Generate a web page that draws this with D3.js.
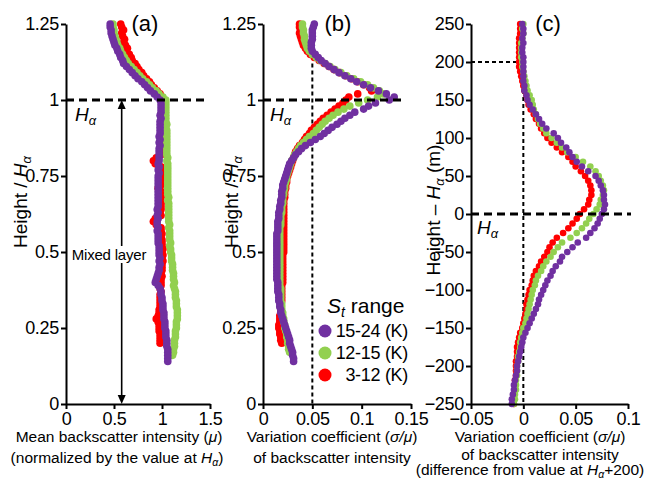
<!DOCTYPE html>
<html>
<head>
<meta charset="utf-8">
<script src="https://cdn.jsdelivr.net/npm/d3@7"></script>
<style>
  body { margin: 0; background: #fff; }
  text { font-family: "Liberation Sans", Arial, sans-serif; fill: #000; }
</style>
</head>
<body>
<svg id="chart" width="651" height="479"></svg>
<script>
// ---- Normalised heights (Height / H_alpha) shared by panels (a) and (b) ----
const heightGrid = [
  1.25,1.24,1.23,1.22,1.21,1.20,1.19,1.18,1.17,1.16,
  1.15,1.14,1.13,1.12,1.11,1.10,1.09,1.08,1.07,1.06,
  1.05,1.04,1.03,1.02,1.01,1.00,0.99,0.98,0.97,0.96,
  0.95,0.94,0.93,0.92,0.91,0.90,0.89,0.88,0.87,0.86,
  0.85,0.84,0.83,0.82,0.81,0.80,0.79,0.78,0.77,0.76,
  0.75,0.74,0.73,0.72,0.71,0.70,0.69,0.68,0.67,0.66,
  0.65,0.64,0.63,0.62,0.61,0.60,0.59,0.58,0.57,0.56,
  0.55,0.54,0.53,0.52,0.51,0.50,0.49,0.48,0.47,0.46,
  0.45,0.44,0.43,0.42,0.41,0.40,0.39,0.38,0.37,0.36,
  0.35,0.34,0.33,0.32,0.31,0.30,0.29,0.28,0.27,0.26,
  0.25,0.24,0.23,0.22,0.21,0.20,0.19,0.18,0.17,0.16,
  0.15,0.14
];

// (a) mean backscatter intensity, normalised by the value at H_alpha
const meanHigh = [ // St 15-24 K
  .46,.46,.47,.47,.48,.49,.50,.51,.53,.54,
  .56,.57,.59,.60,.63,.66,.69,.72,.75,.79,
  .82,.85,.88,.92,.95,.98,.99,.99,.99,.99,
  .98,.99,.98,.98,.98,.98,.98,.97,.98,.97,
  .98,.97,.97,.97,.97,.97,.96,.97,.96,.97,
  .96,.96,.96,.96,.96,.96,.96,.96,.96,.96,
  .96,.95,.96,.95,.96,.95,.95,.96,.95,.96,
  .96,.96,.96,.97,.97,.97,.97,.98,.97,.98,
  .97,.97,.96,.95,.94,.93,.96,.98,.99,.99,
  1.00,1.00,1.01,1.01,1.01,1.02,1.02,1.02,1.03,1.03,
  1.03,1.04,1.04,1.04,1.05,1.05,1.05,1.06,1.06,1.06,
  1.06,1.06
];
const meanMid = [ // St 12-15 K
  .49,.49,.50,.50,.51,.52,.53,.54,.56,.57,
  .59,.61,.63,.65,.68,.71,.74,.77,.80,.84,
  .87,.90,.94,.97,1.01,1.04,1.04,1.04,1.04,1.04,
  1.04,1.04,1.04,1.05,1.04,1.05,1.05,1.05,1.05,1.05,
  1.05,1.05,1.05,1.05,1.06,1.05,1.06,1.06,1.06,1.06,
  1.06,1.06,1.06,1.06,1.06,1.06,1.06,1.07,1.06,1.07,
  1.07,1.07,1.07,1.07,1.07,1.07,1.08,1.07,1.08,1.08,
  1.08,1.08,1.09,1.08,1.09,1.09,1.10,1.10,1.10,1.11,
  1.11,1.11,1.12,1.12,1.12,1.13,1.12,1.13,1.14,1.14,
  1.14,1.15,1.15,1.15,1.16,1.16,1.16,1.16,1.15,1.15,
  1.15,1.14,1.14,1.14,1.13,1.13,1.13,1.12,1.12,1.11,
  null,null
];
const meanLow = [ // St 3-12 K
  .57,.58,.60,.58,.59,.61,.60,.62,.64,.63,
  .66,.68,.69,.72,.74,.76,.79,.81,.84,.87,
  .89,.92,.95,.98,1.00,1.02,1.01,1.00,1.01,1.00,
  .99,1.00,.99,1.00,.99,.99,1.00,.99,.99,1.00,
  .99,.99,.98,.99,.94,.91,.93,.99,.99,1.00,
  .99,.99,.98,.99,.96,.99,.99,.99,.98,.99,
  .99,.99,.98,.99,.93,.91,.94,.99,.99,1.00,
  .99,1.00,1.00,1.00,1.01,1.00,1.01,1.00,1.01,1.00,
  1.00,1.00,.99,1.00,.99,.99,.99,.98,.99,.98,
  .98,.98,.98,.98,.97,.97,.96,.94,.96,.97,
  .97,.97,.98,.98,.98,.98,null,null,null,null,
  null,null
];

// (b) variation coefficient sigma/mu
const cvHigh = [
  .052,.051,.050,.050,.050,.050,.049,.049,.049,.050,
  .053,.056,.059,.063,.067,.072,.077,.083,.089,.095,
  .102,.109,.117,.125,.133,.128,.114,.107,.102,.093,
  .088,.083,.079,.075,.070,.066,.062,.058,.053,.048,
  .043,.039,.036,.033,.031,.029,.027,.026,.025,.024,
  .023,.022,.021,.020,.020,.019,.019,.019,.018,.018,
  .017,.017,.016,.016,.016,.015,.015,.015,.015,.014,
  .014,.014,.014,.014,.014,.014,.014,.014,.014,.014,
  .014,.014,.014,.014,.014,.015,.015,.015,.015,.016,
  .016,.016,.017,.017,.018,.018,.019,.020,.021,.022,
  .023,.024,.025,.026,.027,.027,.028,.029,.030,.030,
  .031,.031
];
const cvMid = [
  .040,.040,.041,.041,.042,.042,.043,.044,.045,.047,
  .050,.054,.058,.063,.068,.073,.079,.085,.092,.099,
  .106,.112,.118,.122,.116,.106,.097,.088,.082,.076,
  .071,.067,.063,.060,.057,.054,.051,.047,.044,.041,
  .038,.036,.034,.032,.031,.029,.028,.027,.026,.025,
  .024,.024,.023,.022,.022,.021,.021,.020,.020,.020,
  .019,.019,.019,.018,.018,.018,.018,.017,.017,.017,
  .017,.017,.017,.017,.017,.017,.017,.017,.017,.017,
  .017,.017,.017,.017,.017,.017,.017,.018,.018,.018,
  .018,.018,.019,.019,.019,.020,.020,.021,.021,.022,
  .022,.023,.024,.024,.025,.025,.026,.026,.027,null,
  null,null
];
const cvLow = [
  .037,.037,.038,.037,.038,.039,.040,.041,.043,.045,
  .048,.052,.057,.062,.067,.072,.078,.084,.090,.096,
  .102,.108,.110,.096,.087,.084,.081,.077,.073,.069,
  .065,.061,.058,.055,.052,.049,.047,.044,.042,.040,
  .037,.035,.033,.032,.031,.030,.029,.028,.027,.026,
  .025,.024,.024,.023,.023,.022,.022,.022,.021,.021,
  .021,.021,.021,.021,.021,.021,.021,.021,.021,.021,
  .021,.021,.021,.021,.021,.021,.020,.020,.020,.020,
  .020,.020,.020,.020,.020,.020,.019,.019,.019,.019,
  .019,.019,.018,.018,.018,.018,.017,.017,.017,.016,
  .016,.017,.017,.018,.018,.019,null,null,null,null,
  null,null
];

// ---- Heights relative to H_alpha in metres, panel (c) ----
const offsetGrid = [
  250,243.75,237.5,231.25,225,218.75,212.5,206.25,200,193.75,
  187.5,181.25,175,168.75,162.5,156.25,150,143.75,137.5,131.25,
  125,118.75,112.5,106.25,100,93.75,87.5,81.25,75,68.75,
  62.5,56.25,50,43.75,37.5,31.25,25,18.75,12.5,6.25,
  0,-6.25,-12.5,-18.75,-25,-31.25,-37.5,-43.75,-50,-56.25,
  -62.5,-68.75,-75,-81.25,-87.5,-93.75,-100,-106.25,-112.5,-118.75,
  -125,-131.25,-137.5,-143.75,-150,-156.25,-162.5,-168.75,-175,-181.25,
  -187.5,-193.75,-200,-206.25,-212.5,-218.75,-225,-231.25,-237.5,-243.75,
  -250
];
// (c) variation coefficient minus its value at H_alpha + 200 m
const diffHigh = [
  -.001,.000,.000,-.001,.000,-.001,-.001,.000,.000,.000,
  .000,.000,.000,.001,.001,.003,.004,.006,.009,.012,
  .015,.018,.022,.029,.033,.036,.041,.044,.047,.051,
  .056,.062,.069,.072,.074,.076,.077,.077,.078,.077,
  .075,.073,.071,.068,.064,.060,.052,.047,.042,.037,
  .035,.031,.028,.026,.023,.021,.019,.017,.015,.014,
  .012,.010,.008,.006,.004,.002,.000,-.001,-.002,-.003,
  -.004,-.005,-.006,-.006,-.007,-.008,-.009,-.009,-.010,-.011,
  -.011
];
const diffMid = [
  .000,-.001,.000,-.001,-.002,-.002,-.002,-.002,-.001,-.001,
  .000,.001,.002,.003,.004,.006,.008,.009,.010,.012,
  .014,.016,.019,.022,.027,.032,.037,.042,.050,.057,
  .064,.069,.072,.074,.076,.077,.076,.074,.073,.070,
  .067,.063,.060,.056,.051,.045,.037,.033,.029,.026,
  .022,.019,.017,.014,.012,.011,.009,.008,.007,.006,
  .005,.004,.003,.002,.000,-.001,-.002,-.003,-.003,-.004,
  -.005,-.005,-.006,-.006,-.006,-.007,-.007,-.007,-.008,-.008,
  -.009
];
const diffLow = [
  -.003,-.003,-.003,-.004,-.004,-.004,-.004,-.004,-.004,-.004,
  -.003,-.002,-.001,.000,.001,.003,.004,.005,.007,.010,
  .012,.015,.017,.020,.023,.027,.032,.037,.043,.047,
  .050,.055,.059,.062,.064,.065,.065,.063,.062,.058,
  .054,.051,.047,.043,.038,.032,.028,.025,.023,.020,
  .017,.015,.012,.010,.009,.008,.006,.005,.004,.003,
  .003,.002,.001,.000,-.001,-.003,-.004,-.005,-.006,-.006,
  -.006,-.007,-.007,-.007,-.007,-.008,-.008,-.008,-.009,-.009,
  -.009
];

// ---- Axis ticks and labels ----
const heightTicks = [0, 0.25, 0.5, 0.75, 1, 1.25];
const heightTickLabels = ["0", "0.25", "0.5", "0.75", "1", "1.25"];
const meanTicks = [0, 0.5, 1, 1.5];
const meanTickLabels = ["0", "0.5", "1", "1.5"];
const cvTicks = [0, 0.05, 0.1, 0.15];
const cvTickLabels = ["0", "0.05", "0.1", "0.15"];
const diffTicks = [-0.05, 0, 0.05, 0.1];
const diffTickLabels = ["\u22120.05", "0", "0.05", "0.1"];
const offsetTicks = [-250, -200, -150, -100, -50, 0, 50, 100, 150, 200, 250];
const offsetTickLabels = ["\u2212250", "\u2212200", "\u2212150", "\u2212100", "\u221250", "0", "50", "100", "150", "200", "250"];

const seriesLabels = ["15-24 (K)", "12-15 (K)", "3-12 (K)"];
const colours = { high: "#7030a0", mid: "#92d050", low: "#ff0000" };

const svg = d3.select("#chart");
const yTop = 24, yBottom = 404;

function addHalpha(textSel, size, drop) {
  textSel.append("tspan").attr("font-style", "italic").text("H");
  textSel.append("tspan").attr("font-style", "italic")
    .attr("font-size", size * 0.68).attr("dy", drop).text("\u03b1");
}

function drawAxes(g, x, y, xt, xl, yt, yl) {
  const ax = g.append("g").attr("transform", `translate(0,${yBottom})`)
    .call(d3.axisBottom(x).tickValues(xt).tickFormat((d, i) => xl[i])
      .tickSize(5).tickSizeOuter(0).tickPadding(3));
  const ay = g.append("g").attr("transform", `translate(${x.range()[0]},0)`)
    .call(d3.axisLeft(y).tickValues(yt).tickFormat((d, i) => yl[i])
      .tickSize(5).tickSizeOuter(0).tickPadding(2));
  [ax, ay].forEach(a => {
    a.attr("font-family", null).attr("font-size", null);
    a.select(".domain").attr("stroke", "#000").attr("stroke-width", 2);
    a.selectAll(".tick line").attr("stroke", "#000").attr("stroke-width", 2);
    a.selectAll(".tick text").attr("font-size", 18).attr("fill", "#000")
      .attr("letter-spacing", "-0.3px");
  });
}

function drawDots(g, x, y, grid, series, r) {
  series.forEach(([vals, col]) => {
    const pts = grid.map((h, i) => [vals[i], h]).filter(p => p[0] != null);
    g.append("g").selectAll("circle").data(pts).join("circle")
      .attr("cx", d => x(d[0])).attr("cy", d => y(d[1]))
      .attr("r", r).attr("fill", col);
  });
}

function hDash(g, x1, x2, yy, w, dash) {
  g.append("line").attr("x1", x1).attr("x2", x2).attr("y1", yy).attr("y2", yy)
    .attr("stroke", "#000").attr("stroke-width", w).attr("stroke-dasharray", dash);
}
function vDash(g, xx, y1, y2, w, dash) {
  g.append("line").attr("x1", xx).attr("x2", xx).attr("y1", y1).attr("y2", y2)
    .attr("stroke", "#000").attr("stroke-width", w).attr("stroke-dasharray", dash);
}

function yTitle(x0, yc, parts) {
  const t = svg.append("text").attr("transform", `translate(${x0},${yc}) rotate(-90)`)
    .attr("text-anchor", "middle").attr("font-size", 19);
  t.append("tspan").text(parts[0]);
  addHalpha(t, 19, 4);
  if (parts[1]) t.append("tspan").attr("dy", -4).text(parts[1]);
}

function panelLetter(x0, s) {
  svg.append("text").attr("x", x0).attr("y", 31).attr("text-anchor", "middle")
    .attr("font-size", 22).text(s);
}

function halphaLabel(x0, y0) {
  const t = svg.append("text").attr("x", x0).attr("y", y0).attr("font-size", 19);
  addHalpha(t, 19, 4);
}

function titleLine(x0, y0, pieces) {
  const t = svg.append("text").attr("x", x0).attr("y", y0).attr("text-anchor", "middle")
    .attr("font-size", 15.5);
  pieces.forEach(p => {
    if (p === "Ha") { addHalpha(t, 15.5, 3); return; }
    const s = t.append("tspan").text(p.text);
    if (p.italic) s.attr("font-style", "italic");
    if (p.dy) s.attr("dy", p.dy);
  });
  return t;
}

// ---------------- Panel (a) ----------------
const xA = d3.scaleLinear().domain([0, 1.5]).range([66, 210]);
const yA = d3.scaleLinear().domain([0, 1.25]).range([yBottom, yTop]);
const gA = svg.append("g");
drawDots(gA, xA, yA, heightGrid, [[meanLow, colours.low], [meanMid, colours.mid], [meanHigh, colours.high]], 3.8);
hDash(gA, xA(0), 208, yA(1), 3, "8,5");
// mixed-layer double arrow
const arrowX = xA(0.58);
gA.append("line").attr("x1", arrowX).attr("x2", arrowX)
  .attr("y1", yA(1) + 4).attr("y2", yA(0) - 4).attr("stroke", "#000").attr("stroke-width", 1.6);
gA.append("path").attr("d", `M${arrowX},${yA(1)} l-4,9 l8,0 z`).attr("fill", "#000");
gA.append("path").attr("d", `M${arrowX},${yA(0)} l-4,-9 l8,0 z`).attr("fill", "#000");
gA.append("rect").attr("x", 70).attr("y", 246).attr("width", 78).attr("height", 17).attr("fill", "#fff");
gA.append("text").attr("x", 109).attr("y", 260).attr("text-anchor", "middle")
  .attr("font-size", 15).attr("letter-spacing", "-0.2px").text("Mixed layer");
drawAxes(gA, xA, yA, meanTicks, meanTickLabels, heightTicks, heightTickLabels);
panelLetter(145, "(a)");
halphaLabel(75, 121);
yTitle(27, 202, ["Height / "]);
titleLine(119, 442, [{ text: "Mean backscatter intensity (" }, { text: "\u03bc", italic: true }, { text: ")" }]);
titleLine(117, 463, [{ text: "(normalized by the value at " }, "Ha", { text: ")", dy: -3 }]);

// ---------------- Panel (b) ----------------
const xB = d3.scaleLinear().domain([0, 0.15]).range([263, 411]);
const yB = d3.scaleLinear().domain([0, 1.25]).range([yBottom, yTop]);
const gB = svg.append("g");
vDash(gB, xB(0.05), yB(1.12), yB(0), 2, "4,3");
drawDots(gB, xB, yB, heightGrid, [[cvLow, colours.low], [cvMid, colours.mid], [cvHigh, colours.high]], 3.8);
hDash(gB, xB(0), 404, yB(1), 3, "8,5");
drawAxes(gB, xB, yB, cvTicks, cvTickLabels, heightTicks, heightTickLabels);
panelLetter(338, "(b)");
halphaLabel(270, 121);
yTitle(238, 202, ["Height / "]);
titleLine(332, 442, [{ text: "Variation coefficient (" }, { text: "\u03c3/\u03bc", italic: true }, { text: ")" }]);
titleLine(332, 463, [{ text: "of backscatter intensity" }]);
// legend
{
  const lt = svg.append("text").attr("x", 327).attr("y", 313).attr("font-size", 21);
  lt.append("tspan").attr("font-style", "italic").text("S");
  lt.append("tspan").attr("font-style", "italic").attr("font-size", 14).attr("dy", 4).text("t");
  lt.append("tspan").attr("dy", -4).text(" range");
  const legCols = [colours.high, colours.mid, colours.low];
  const legY = [331, 353, 375];
  seriesLabels.forEach((s, i) => {
    svg.append("circle").attr("cx", 325).attr("cy", legY[i]).attr("r", 6.5).attr("fill", legCols[i]);
    svg.append("text").attr("x", 408).attr("y", legY[i] + 6).attr("text-anchor", "end")
      .attr("font-size", 18).attr("letter-spacing", "-0.3px").text(s);
  });
}

// ---------------- Panel (c) ----------------
const xC = d3.scaleLinear().domain([-0.05, 0.1]).range([471, 628]);
const yC = d3.scaleLinear().domain([-250, 250]).range([yBottom, yTop]);
const gC = svg.append("g");
vDash(gC, xC(0), yC(200), yC(-250), 2, "4,3");
hDash(gC, xC(-0.05), xC(0), yC(200), 2, "4,3");
drawDots(gC, xC, yC, offsetGrid, [[diffLow, colours.low], [diffMid, colours.mid], [diffHigh, colours.high]], 3.3);
hDash(gC, xC(-0.05), 631, yC(0), 3, "8,5");
drawAxes(gC, xC, yC, diffTicks, diffTickLabels, offsetTicks, offsetTickLabels);
panelLetter(548, "(c)");
halphaLabel(477, 234);
yTitle(440, 210, ["Height \u2013 ", " (m)"]);
titleLine(540, 442, [{ text: "Variation coefficient (" }, { text: "\u03c3/\u03bc", italic: true }, { text: ")" }]);
titleLine(540, 459.5, [{ text: "of backscatter intensity" }]);
titleLine(530, 475, [{ text: "(difference from value at " }, "Ha", { text: "+200)", dy: -3 }]);
</script>
</body>
</html>
